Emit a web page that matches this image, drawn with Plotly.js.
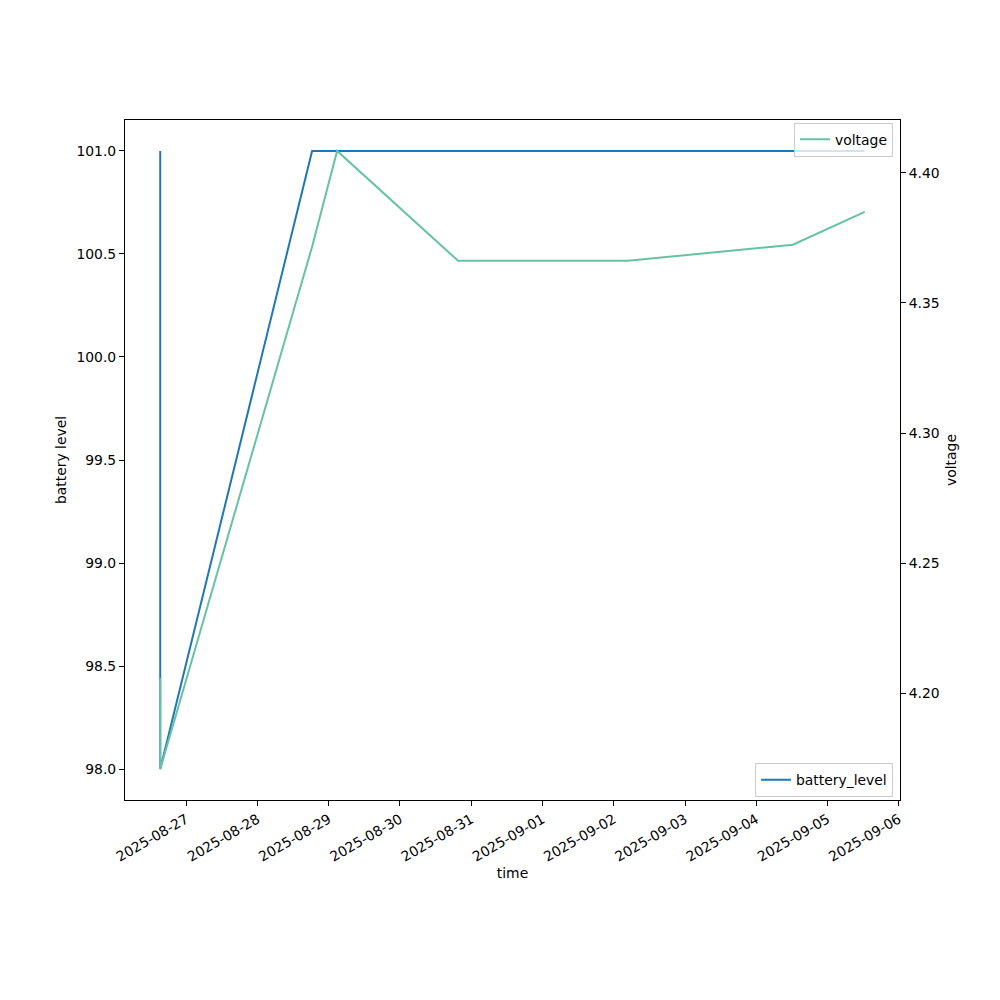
<!DOCTYPE html>
<html>
<head>
<meta charset="utf-8">
<script src="https://cdn.plot.ly/plotly-3.0.1.min.js"></script>
<style>html,body{margin:0;padding:0;background:#fff;}#chart{width:1000px;height:1000px;}</style>
</head>
<body>
<div id="chart"></div>
<script>
// Data
const times = [
  "2025-08-26 15:15", "2025-08-26 15:15", "2025-08-28 18:24", "2025-08-29 02:50",
  "2025-08-30 19:34", "2025-09-02 04:46", "2025-09-04 12:19", "2025-09-05 12:33"
];
const batteryLevel = [101, 98, 101, 101, 101, 101, 101, 101];
const voltageTimes = [
  "2025-08-26 15:15", "2025-08-26 15:15", "2025-08-28 18:24", "2025-08-29 02:50",
  "2025-08-30 19:34", "2025-09-02 04:46", "2025-09-04 12:19", "2025-09-05 12:33"
];
const voltage = [4.206, 4.171, 4.3716, 4.4084, 4.3662, 4.3662, 4.3724, 4.385];
const leftTicks = [98.0, 98.5, 99.0, 99.5, 100.0, 100.5, 101.0];
const rightTicks = [4.20, 4.25, 4.30, 4.35, 4.40];
const dateTicks = ["2025-08-27","2025-08-28","2025-08-29","2025-08-30","2025-08-31","2025-09-01","2025-09-02","2025-09-03","2025-09-04","2025-09-05","2025-09-06"];

function padRange(vals, f) {
  const mn = Math.min(...vals), mx = Math.max(...vals);
  const p = (mx - mn) * f;
  return [mn - p, mx + p];
}
function toMs(s) { return new Date(s.replace(" ", "T") + ":00Z").getTime(); }
function fmt(ms) { return new Date(ms).toISOString().replace("T", " ").slice(0, 19); }
const allMs = times.concat(voltageTimes).map(toMs);
const xr = padRange(allMs, 0.05).map(fmt);

const FONT = "DejaVu Sans, sans-serif";
const fs = 13.9;

const traces = [
  {x: times, y: batteryLevel, name: "battery_level", type: "scatter", mode: "lines",
   line: {color: "#1f77b4", width: 2}, yaxis: "y", legend: "legend"},
  {x: voltageTimes, y: voltage, name: "voltage", type: "scatter", mode: "lines",
   line: {color: "#66c2a5", width: 2}, yaxis: "y2", legend: "legend2"}
];

const layout = {
  width: 1000, height: 1000,
  margin: {l: 125, r: 100, t: 120, b: 200},
  paper_bgcolor: "#fff", plot_bgcolor: "#fff",
  font: {family: FONT, size: fs, color: "#000"},
  xaxis: {
    type: "date", range: xr,
    tickvals: dateTicks, ticktext: dateTicks, tickangle: -30,
    ticks: "outside", ticklen: 5, tickwidth: 1, tickcolor: "#000",
    showgrid: false, zeroline: false,
    showline: true, linecolor: "#000", linewidth: 1, mirror: true,
    title: {text: "time", font: {family: FONT, size: fs}, standoff: 4},
    automargin: false
  },
  yaxis: {
    range: padRange(batteryLevel, 0.05),
    tickvals: leftTicks, ticktext: leftTicks.map(v => v.toFixed(1)),
    ticks: "outside", ticklen: 5, tickwidth: 1, tickcolor: "#000",
    showgrid: false, zeroline: false,
    showline: true, linecolor: "#000", linewidth: 1,
    title: {text: "battery level", font: {family: FONT, size: fs}, standoff: 6},
    automargin: false
  },
  yaxis2: {
    overlaying: "y", side: "right",
    range: padRange(voltage, 0.05),
    tickvals: rightTicks, ticktext: rightTicks.map(v => v.toFixed(2)),
    ticks: "outside", ticklen: 5, tickwidth: 1, tickcolor: "#000",
    showgrid: false, zeroline: false,
    showline: true, linecolor: "#000", linewidth: 1,
    title: {text: "voltage", font: {family: FONT, size: fs}, standoff: 7},
    automargin: false
  },
  legend: {
    x: 0.991, y: 0.004, xanchor: "right", yanchor: "bottom",
    bgcolor: "rgba(255,255,255,0.8)", bordercolor: "#cccccc", borderwidth: 1,
    font: {family: FONT, size: fs}, tracegroupgap: 0
  },
  legend2: {
    x: 0.991, y: 0.996, xanchor: "right", yanchor: "top",
    bgcolor: "rgba(255,255,255,0.8)", bordercolor: "#cccccc", borderwidth: 1,
    font: {family: FONT, size: fs}, tracegroupgap: 0
  },
  showlegend: true
};

Plotly.newPlot("chart", traces, layout, {staticPlot: true});
</script>
</body>
</html>
